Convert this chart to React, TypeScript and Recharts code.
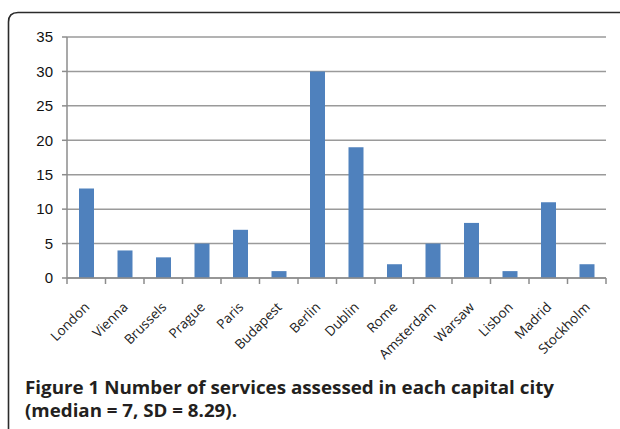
import React from "react";
import { Bar, BarChart, CartesianGrid, XAxis, YAxis } from "recharts";

const cities = [
  "London",
  "Vienna",
  "Brussels",
  "Prague",
  "Paris",
  "Budapest",
  "Berlin",
  "Dublin",
  "Rome",
  "Amsterdam",
  "Warsaw",
  "Lisbon",
  "Madrid",
  "Stockholm",
];
const services = [13, 4, 3, 5, 7, 1, 30, 19, 2, 5, 8, 1, 11, 2];
const yTicks = [0, 5, 10, 15, 20, 25, 30, 35];

const data = cities.map((city, i) => ({ city, services: services[i] }));

const W = 620;
const H = 380;
const LEFT = 67;
const RIGHT = 14;
const bandWidth = (W - LEFT - RIGHT) / cities.length;

function CityTick(props: any) {
  const { x, y, payload, index } = props;
  const left = x - bandWidth / 2;
  return (
    <g>
      <line x1={left} y1={y} x2={left} y2={y + 6} stroke="#8c8c8c" strokeWidth={1.5} />
      {index === cities.length - 1 && (
        <line
          x1={x + bandWidth / 2}
          y1={y}
          x2={x + bandWidth / 2}
          y2={y + 6}
          stroke="#8c8c8c"
          strokeWidth={1.5}
        />
      )}
      <text
        transform={`translate(${x + 4},${y + 30}) rotate(-45)`}
        textAnchor="end"
        fontFamily="Open Sans"
        fontSize={13.5}
        fill="#222"
      >
        {payload.value}
      </text>
    </g>
  );
}

export default function App() {
  return (
    <div
      style={{
        position: "absolute",
        left: 0,
        top: 0,
        width: 620,
        height: 429,
        overflow: "hidden",
        background: "#fff",
      }}
    >
      <div style={{ position: "absolute", left: 0, top: 0 }}>
        <BarChart
          width={W}
          height={H}
          data={data}
          margin={{ top: 37, right: RIGHT, left: 0, bottom: 0 }}
        >
          <CartesianGrid vertical={false} stroke="#9a9a9a" strokeWidth={1.5} />
          <YAxis
            width={LEFT}
            domain={[0, 35]}
            ticks={yTicks}
            tickSize={5}
            tickMargin={9}
            stroke="#8c8c8c"
            strokeWidth={1.5}
            tick={{ fill: "#111", fontFamily: "Liberation Sans", fontSize: 15 }}
            interval={0}
          />
          <XAxis
            dataKey="city"
            height={102}
            interval={0}
            tickSize={0}
            tickMargin={0}
            stroke="#8c8c8c"
            strokeWidth={1.5}
            tick={<CityTick />}
          />
          <Bar dataKey="services" fill="#4f81bd" barSize={15} isAnimationActive={false} />
        </BarChart>
      </div>
      <svg
        width={620}
        height={429}
        style={{ position: "absolute", left: 0, top: 0, pointerEvents: "none" }}
      >
        <path
          d="M 8.5 429 L 8.5 22 Q 8.5 12.5 18 12.5 L 620 12.5"
          fill="none"
          stroke="#2b2b2b"
          strokeWidth={1.6}
        />
        <text
          x={25}
          y={394}
          fontFamily="Open Sans"
          fontWeight="bold"
          fontSize={17.5}
          fill="#231f20"
          textLength={529}
          lengthAdjust="spacingAndGlyphs"
        >
          Figure 1 Number of services assessed in each capital city
        </text>
        <text
          x={25}
          y={417}
          fontFamily="Open Sans"
          fontWeight="bold"
          fontSize={17.5}
          fill="#231f20"
          textLength={212}
          lengthAdjust="spacingAndGlyphs"
        >
          (median = 7, SD = 8.29).
        </text>
      </svg>
    </div>
  );
}
